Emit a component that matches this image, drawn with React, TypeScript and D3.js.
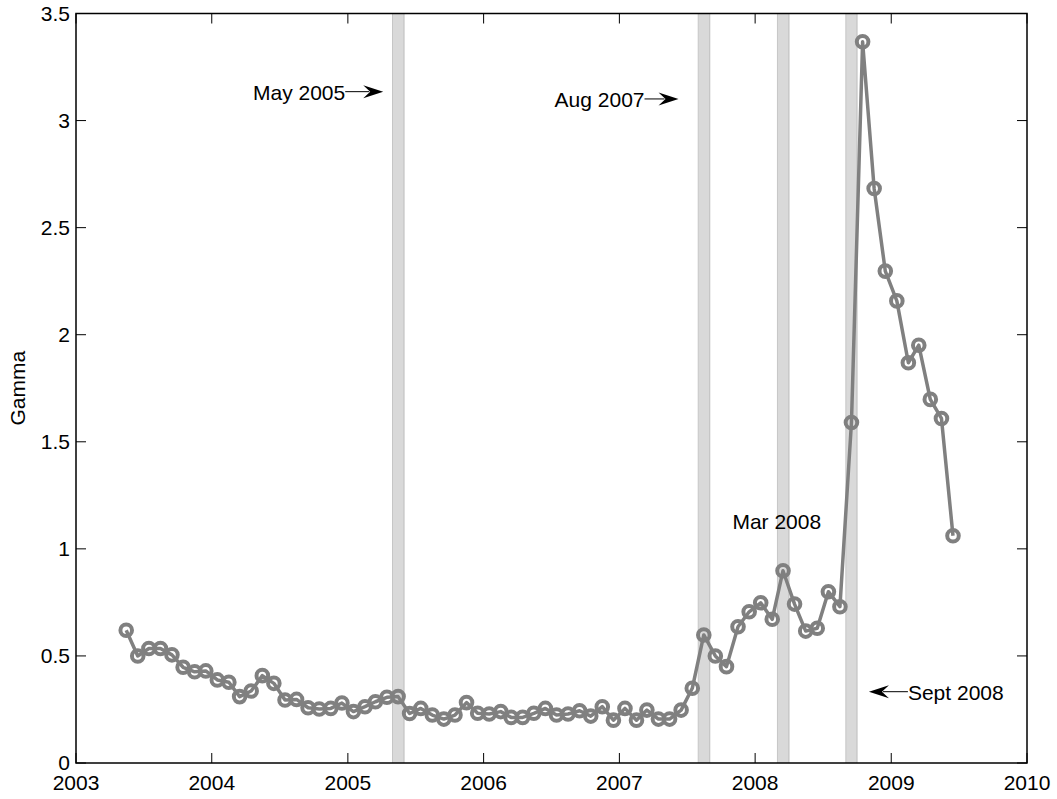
import React from "react";
import * as d3 from "d3";

const months: string[] = [
  "2003-05","2003-06","2003-07","2003-08","2003-09","2003-10","2003-11","2003-12",
  "2004-01","2004-02","2004-03","2004-04","2004-05","2004-06","2004-07","2004-08","2004-09","2004-10","2004-11","2004-12",
  "2005-01","2005-02","2005-03","2005-04","2005-05","2005-06","2005-07","2005-08","2005-09","2005-10","2005-11","2005-12",
  "2006-01","2006-02","2006-03","2006-04","2006-05","2006-06","2006-07","2006-08","2006-09","2006-10","2006-11","2006-12",
  "2007-01","2007-02","2007-03","2007-04","2007-05","2007-06","2007-07","2007-08","2007-09","2007-10","2007-11","2007-12",
  "2008-01","2008-02","2008-03","2008-04","2008-05","2008-06","2008-07","2008-08","2008-09","2008-10","2008-11","2008-12",
  "2009-01","2009-02","2009-03","2009-04","2009-05","2009-06",
];

const gamma: number[] = [
  0.62, 0.50, 0.535, 0.535, 0.505, 0.447, 0.426, 0.43,
  0.388, 0.377, 0.31, 0.336, 0.408, 0.372, 0.294, 0.297, 0.258, 0.252, 0.255, 0.28,
  0.24, 0.263, 0.286, 0.307, 0.31, 0.231, 0.255, 0.224, 0.205, 0.224, 0.282, 0.232,
  0.229, 0.24, 0.213, 0.213, 0.232, 0.255, 0.224, 0.229, 0.244, 0.219, 0.263, 0.2,
  0.255, 0.2, 0.247, 0.205, 0.205, 0.247, 0.349, 0.598, 0.50, 0.45, 0.636, 0.706,
  0.748, 0.671, 0.898, 0.742, 0.616, 0.629, 0.80, 0.73, 1.59, 3.368, 2.683, 2.297,
  2.158, 1.869, 1.951, 1.698, 1.609, 1.061,
];

const eventMonths: string[] = ["2005-05", "2007-08", "2008-03", "2008-09"];

const xTickYears: number[] = [2003, 2004, 2005, 2006, 2007, 2008, 2009, 2010];
const yTicks: number[] = [0, 0.5, 1, 1.5, 2, 2.5, 3, 3.5];

const W = 1057;
const H = 799;
const L = 76;
const R = 1027;
const T = 13.5;
const B = 763;
const FONT = "'Liberation Sans', Arial, Helvetica, sans-serif";
const FS = 21;

const parseMonth = (s: string) => {
  const [y, m] = s.split("-").map(Number);
  return { y, m };
};
const midMonth = (s: string) => {
  const { y, m } = parseMonth(s);
  return new Date(y, m - 1, 16);
};
const startMonth = (s: string) => {
  const { y, m } = parseMonth(s);
  return new Date(y, m - 1, 1);
};
const endMonth = (s: string) => {
  const { y, m } = parseMonth(s);
  return new Date(y, m, 1);
};

export default function App() {
  const x = d3
    .scaleTime()
    .domain([new Date(2003, 0, 1), new Date(2010, 0, 1)])
    .range([L, R]);
  const y = d3.scaleLinear().domain([0, 3.5]).range([B, T]);

  const pts = months.map((m, i) => ({ d: midMonth(m), v: gamma[i] }));
  const line = d3
    .line<{ d: Date; v: number }>()
    .x((p) => x(p.d))
    .y((p) => y(p.v));

  const arrowHead = (tx: number, ty: number, dir: number) => {
    const p = d3.path();
    p.moveTo(tx, ty);
    p.lineTo(tx - dir * 20, ty - 6.5);
    p.lineTo(tx - dir * 13, ty);
    p.lineTo(tx - dir * 20, ty + 6.5);
    p.closePath();
    return p.toString();
  };

  // annotation anchors in data space (arrow tips / text anchors)
  const may = { x: x(new Date(2005, 3, 6)), y: y(3.135) };
  const aug = { x: x(new Date(2007, 5, 9)), y: y(3.101) };
  const mar = { x: x(new Date(2008, 2, 1)), y: y(1.13) };
  const sep = { x: x(new Date(2008, 10, 2)), y: y(0.333) };

  return (
    <svg
      width={W}
      height={H}
      style={{ position: "absolute", left: 0, top: 0, background: "#fff" }}
      fontFamily={FONT}
    >
      <rect x={0} y={0} width={W} height={H} fill="#fff" />
      {/* event bands */}
      {eventMonths.map((m) => {
        const x0 = x(startMonth(m));
        const x1 = x(endMonth(m));
        return (
          <g key={m}>
            <rect x={x0} y={T} width={x1 - x0} height={B - T} fill="#d9d9d9" />
            <line x1={x0} x2={x0} y1={T} y2={B} stroke="#c6c6c6" strokeWidth={1} />
            <line x1={x1} x2={x1} y1={T} y2={B} stroke="#bcbcbc" strokeWidth={1} />
          </g>
        );
      })}

      {/* series */}
      <path d={line(pts) || ""} fill="none" stroke="#808080" strokeWidth={3.5} strokeLinejoin="round" />
      {pts.map((p, i) => (
        <circle key={i} cx={x(p.d)} cy={y(p.v)} r={5.8} fill="none" stroke="#808080" strokeWidth={4} />
      ))}

      {/* frame */}
      <rect x={L} y={T} width={R - L} height={B - T} fill="none" stroke="#000" strokeWidth={1.5} />

      {/* x ticks */}
      {xTickYears.map((yr) => {
        const xx = x(new Date(yr, 0, 1));
        return (
          <g key={yr}>
            <line x1={xx} x2={xx} y1={B} y2={B - 10} stroke="#000" strokeWidth={1} />
            <line x1={xx} x2={xx} y1={T} y2={T + 10} stroke="#000" strokeWidth={1} />
            <text x={xx} y={790} textAnchor="middle" fontSize={FS} fill="#000">
              {yr}
            </text>
          </g>
        );
      })}

      {/* y ticks */}
      {yTicks.map((v) => {
        const yy = y(v);
        return (
          <g key={v}>
            <line x1={L} x2={L + 10} y1={yy} y2={yy} stroke="#000" strokeWidth={1} />
            <line x1={R} x2={R - 10} y1={yy} y2={yy} stroke="#000" strokeWidth={1} />
            <text x={70} y={yy + 7} textAnchor="end" fontSize={FS} fill="#000">
              {String(v)}
            </text>
          </g>
        );
      })}

      <text
        transform={`translate(25,${(T + B) / 2}) rotate(-90)`}
        textAnchor="middle"
        fontSize={FS}
        fill="#000"
      >
        Gamma
      </text>

      {/* annotations */}
      <g>
        <text x={may.x - 38} y={may.y + 8.5} textAnchor="end" fontSize={FS} fill="#000">
          May 2005
        </text>
        <line x1={may.x - 38} x2={may.x - 14} y1={may.y} y2={may.y} stroke="#000" strokeWidth={1} />
        <path d={arrowHead(may.x, may.y, 1)} fill="#000" />

        <text x={aug.x - 34} y={aug.y + 8} textAnchor="end" fontSize={FS} fill="#000">
          Aug 2007
        </text>
        <line x1={aug.x - 34} x2={aug.x - 14} y1={aug.y} y2={aug.y} stroke="#000" strokeWidth={1} />
        <path d={arrowHead(aug.x, aug.y, 1)} fill="#000" />

        <text x={mar.x - 45} y={mar.y + 7.5} fontSize={FS} fill="#000">
          Mar 2008
        </text>

        <path d={arrowHead(sep.x, sep.y, -1)} fill="#000" />
        <line x1={sep.x + 14} x2={sep.x + 39} y1={sep.y} y2={sep.y} stroke="#000" strokeWidth={1} />
        <text x={sep.x + 39} y={sep.y + 8} fontSize={FS} fill="#000">
          Sept 2008
        </text>
      </g>
    </svg>
  );
}
